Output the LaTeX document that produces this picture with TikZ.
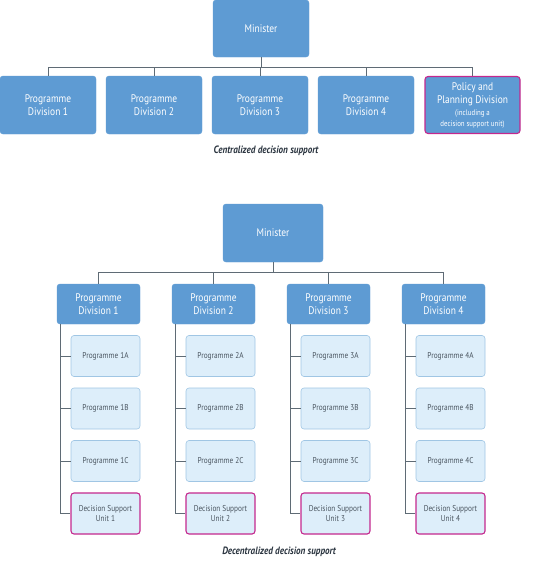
\documentclass[tikz,border=0pt]{standalone}
\usepackage{fontspec}
\setmainfont{PT Sans}
\newfontfamily\narrowfont[FakeStretch=0.86]{PT Sans}
\usetikzlibrary{calc}

\definecolor{divblue}{RGB}{94,155,211}
\definecolor{progfill}{RGB}{221,238,250}
\definecolor{progline}{RGB}{160,198,228}
\definecolor{dsumag}{RGB}{196,40,142}
\definecolor{connline}{RGB}{95,107,117}
\definecolor{captext}{RGB}{43,53,64}
\definecolor{progtext}{RGB}{74,85,96}

\tikzset{
  divbox/.style={rectangle, rounded corners=3pt, fill=divblue, draw=divblue,
    text=white, align=center, inner sep=0pt, font=\narrowfont\fontsize{11}{13}\selectfont},
  progbox/.style={rectangle, rounded corners=3pt, fill=progfill, draw=progline,
    line width=0.6pt, text=progtext, align=center, inner sep=0pt,
    minimum width=69pt, minimum height=41pt, font=\narrowfont\fontsize{8.5}{10.5}\selectfont},
  dsubox/.style={progbox, draw=dsumag, line width=1.1pt},
  conn/.style={draw=connline, line width=0.8pt},
  caption/.style={text=captext, font=\narrowfont\fontsize{10.6}{12}\selectfont\bfseries\itshape}
}

\begin{document}
\begin{tikzpicture}[x=1pt,y=-1pt]
\useasboundingbox (0,0) rectangle (547,562);

% centralized
\node[divbox, minimum width=96pt, minimum height=57pt] (min) at (261,28.5) {Minister};
\foreach \i in {1,...,4}
\node[divbox, minimum width=96pt, minimum height=58pt] (d\i) at ({48+106*(\i-1)},105)
{Programme\\Division \i};
\node[divbox, minimum width=95pt, minimum height=57pt, draw=dsumag, line width=1.1pt] (d5) at (472.5,105)
{Policy and\\Planning Division\\[-1pt]{\fontsize{8}{9}\selectfont(including a}\\[-2pt]{\fontsize{8}{9}\selectfont decision support unit)}};

\foreach \i in {1,...,5}
\draw[conn] (min.south) -- ++(0,10) -| (d\i.north);

\node[caption] (capa) at (266,151) {Centralized decision support};

% decentralized
\node[divbox, minimum width=100pt, minimum height=58pt] (mn) at (273,233) {Minister};
\foreach \i in {1,...,4}{
\node[divbox, minimum width=83pt, minimum height=40pt] (dd\i) at ({98.5+115*(\i-1)},304)
{Programme\\Division \i};
\draw[conn] (mn.south) -- ++(0,10) -| (dd\i.north);
\foreach \j/\l in {0/A,1/B,2/C}{
\node[progbox] (c\i\l) at ({105.5+115*(\i-1)},{356+52.5*\j}) {Programme \i\l};
\draw[conn] ($(dd\i.south west)+(4,0)$) |- (c\i\l.west);
}
\node[dsubox] (u\i) at ({105.5+115*(\i-1)},513.5) {Decision Support\\Unit \i};
\draw[conn] ($(dd\i.south west)+(4,0)$) |- (u\i.west);
}

\node[caption] (capb) at (279,552) {Decentralized decision support};
\end{tikzpicture}
\end{document}
